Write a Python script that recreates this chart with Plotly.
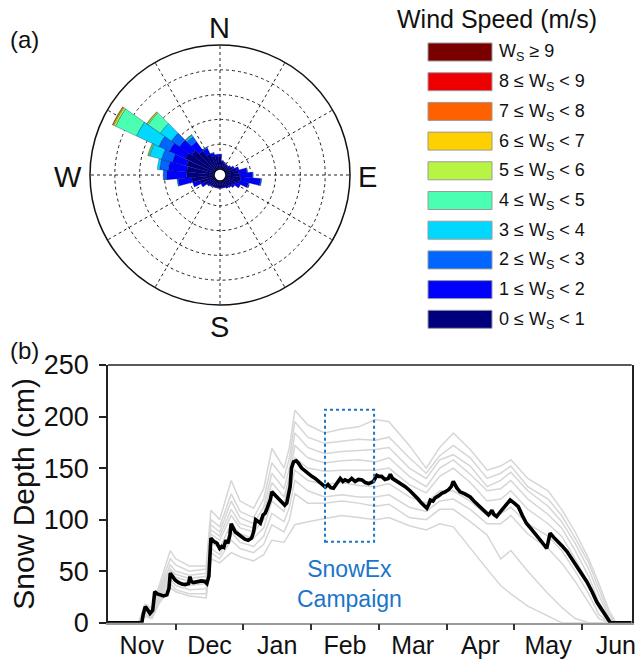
import plotly.graph_objects as go

W, H = 643, 664
FONT = "Liberation Sans, Arial, sans-serif"

# ---------------- Wind rose data ----------------
directions = [0, 10, 20, 30, 40, 50, 60, 70, 80, 90, 100, 110, 120, 130, 140, 150, 160, 170,
              180, 190, 200, 210, 220, 230, 240, 250, 260, 270, 280, 290, 300, 310, 320, 330, 340, 350]
speed_labels = ["0 ≤ W<sub>S</sub> &lt; 1", "1 ≤ W<sub>S</sub> &lt; 2", "2 ≤ W<sub>S</sub> &lt; 3",
                "3 ≤ W<sub>S</sub> &lt; 4", "4 ≤ W<sub>S</sub> &lt; 5", "5 ≤ W<sub>S</sub> &lt; 6",
                "6 ≤ W<sub>S</sub> &lt; 7", "7 ≤ W<sub>S</sub> &lt; 8", "8 ≤ W<sub>S</sub> &lt; 9",
                "W<sub>S</sub> ≥ 9"]
speed_colors = ["#00007f", "#0000ff", "#0066ff", "#00d8ff", "#4affb2",
                "#b8f542", "#ffd000", "#ff6000", "#ee0000", "#7a0000"]

ws_0_1 = [0.5, 0.3, 0.25, 0.22, 0.22, 0.25, 0.32, 0.4, 0.5, 0.55, 0.6, 0.55, 0.45, 0.38, 0.32, 0.3, 0.27, 0.27,
          0.27, 0.27, 0.27, 0.27, 0.3, 0.33, 0.45, 0.6, 0.9, 1.1, 1.1, 1.15, 1.3, 1.15, 0.95, 0.7, 0.55, 0.5]
ws_1_2 = [0.1, 0.05, 0.05, 0.03, 0.03, 0.05, 0.08, 0.15, 0.35, 0.5, 0.8, 0.4, 0.22, 0.1, 0.07, 0.05, 0.03, 0.03,
          0.03, 0.03, 0.03, 0.03, 0.05, 0.07, 0.15, 0.3, 0.55, 0.8, 0.75, 0.6, 0.7, 0.6, 0.45, 0.25, 0.13, 0.1]
ws_2_3 = [0, 0, 0, 0, 0, 0, 0, 0, 0.03, 0.05, 0.05, 0.03, 0, 0, 0, 0, 0, 0,
          0, 0, 0, 0, 0, 0, 0, 0, 0.05, 0.15, 0.35, 0.45, 0.48, 0.4, 0.25, 0.05, 0.02, 0]
ws_3_4 = [0, 0, 0, 0, 0, 0, 0, 0, 0, 0, 0, 0, 0, 0, 0, 0, 0, 0,
          0, 0, 0, 0, 0, 0, 0, 0, 0, 0, 0.1, 0.5, 1.0, 0.55, 0.07, 0, 0, 0]
ws_4_5 = [0, 0, 0, 0, 0, 0, 0, 0, 0, 0, 0, 0, 0, 0, 0, 0, 0, 0,
          0, 0, 0, 0, 0, 0, 0, 0, 0, 0, 0, 0.05, 0.93, 0.6, 0.02, 0, 0, 0]
ws_5_6 = [0, 0, 0, 0, 0, 0, 0, 0, 0, 0, 0, 0, 0, 0, 0, 0, 0, 0,
          0, 0, 0, 0, 0, 0, 0, 0, 0, 0, 0, 0.03, 0.08, 0.05, 0.01, 0, 0, 0]
ws_6_7 = [0, 0, 0, 0, 0, 0, 0, 0, 0, 0, 0, 0, 0, 0, 0, 0, 0, 0,
          0, 0, 0, 0, 0, 0, 0, 0, 0, 0, 0, 0, 0.04, 0.02, 0, 0, 0, 0]
ws_7_8 = [0, 0, 0, 0, 0, 0, 0, 0, 0, 0, 0, 0, 0, 0, 0, 0, 0, 0,
          0, 0, 0, 0, 0, 0, 0, 0, 0, 0, 0, 0, 0.02, 0, 0, 0, 0, 0]
ws_8_9 = [0] * 36
ws_9_up = [0] * 36
speed_freqs = [ws_0_1, ws_1_2, ws_2_3, ws_3_4, ws_4_5, ws_5_6, ws_6_7, ws_7_8, ws_8_9, ws_9_up]
compass = ["N", "E", "S", "W"]

# ---------------- Snow depth data (x in months since 1 Nov) ----------------
month_labels = ["Nov", "Dec", "Jan", "Feb", "Mar", "Apr", "May", "Jun"]
month_ticks = [1, 2, 3, 4, 5, 6, 7]
y_ticks = [0, 50, 100, 150, 200, 250]

mean_x = [0, 0.50, 0.52, 0.55, 0.58, 0.62, 0.66, 0.69, 0.73, 0.77, 0.82, 0.87, 0.90, 0.92, 0.96, 0.99,
          1.04, 1.09, 1.14, 1.19, 1.21, 1.23, 1.26, 1.32, 1.38, 1.43, 1.46, 1.49, 1.52, 1.56, 1.61, 1.65,
          1.68, 1.71, 1.74, 1.77, 1.80, 1.82, 1.85, 1.88, 1.92, 1.97, 2.02, 2.07, 2.12, 2.15, 2.18, 2.22,
          2.25, 2.29, 2.32, 2.34, 2.37, 2.40, 2.42, 2.45, 2.49, 2.53, 2.57, 2.61, 2.64, 2.67, 2.69, 2.71,
          2.74, 2.78, 2.81, 2.86, 2.91, 2.96, 3.01, 3.06, 3.11, 3.16, 3.21, 3.25, 3.29, 3.33, 3.38, 3.43,
          3.47, 3.50, 3.55, 3.60, 3.65, 3.70, 3.75, 3.80, 3.85, 3.92, 3.97, 4.00, 4.04, 4.09, 4.14, 4.17,
          4.20, 4.24, 4.31, 4.39, 4.46, 4.53, 4.58, 4.63, 4.67, 4.71, 4.74, 4.76, 4.80, 4.83, 4.88, 4.93,
          4.98, 5.03, 5.07, 5.10, 5.15, 5.20, 5.27, 5.35, 5.42, 5.49, 5.55, 5.62, 5.65, 5.67, 5.70, 5.74,
          5.80, 5.86, 5.90, 5.94, 6.00, 6.06, 6.12, 6.18, 6.25, 6.33, 6.40, 6.48, 6.50, 6.53, 6.58, 6.63,
          6.70, 6.78, 6.85, 6.93, 7.00, 7.07, 7.15, 7.22, 7.30, 7.39, 7.42, 7.735]
mean_depth = [0, 0, 8, 15.5, 13, 9, 12, 30, 28, 27, 26, 27, 33, 48, 44, 41.5,
              39, 37.5, 37, 38, 44.7, 40, 39, 39.5, 40.5, 40, 38, 45, 82, 79, 77, 72,
              74, 73, 80, 77, 85, 96, 92, 88, 86, 83.5, 81, 80, 82, 88, 100, 98,
              96.5, 104.6, 106, 109, 114, 120, 127, 125, 122, 119, 116, 114, 116, 125, 132, 150,
              156, 157, 155, 150, 147, 144, 142, 140, 137, 134, 131.5, 134, 131, 130.5, 135, 140,
              137, 138.5, 137, 140, 137, 139, 138.5, 136, 135, 137, 143, 142, 142, 139, 140, 144,
              140, 138.5, 135, 132, 128, 124, 120, 116, 113, 111, 115, 119, 118, 121, 123, 125.6,
              127, 129, 132, 137, 131, 127, 125, 122, 117, 112.6, 109, 104.6, 107, 109, 105, 103,
              108, 112.6, 116, 119, 116, 112.6, 104, 96.5, 91, 85, 79, 72, 80, 87, 83, 80,
              75, 69, 62, 54, 47, 40, 30, 20, 12, 2.6, 0, 0]

site_x = [0, 0.45, 0.55, 0.65, 0.75, 0.92, 1.0, 1.2, 1.45, 1.52, 1.65, 1.82, 1.95, 2.15, 2.3,
          2.42, 2.6, 2.68, 2.76, 2.95, 3.2, 3.45, 3.7, 3.95, 4.15, 4.45, 4.7, 4.9, 5.1, 5.35,
          5.6, 5.8, 5.95, 6.2, 6.5, 6.7, 6.9, 7.1, 7.25, 7.4, 7.5, 7.735]
site_1 = [0, 0, 18, 14, 35, 70, 62, 55, 55, 109, 100, 138, 118, 111, 130, 169, 150, 170, 206, 192,
          184, 188, 190, 197, 195, 172, 150, 170, 184, 168, 148, 152, 158, 140, 128, 110, 88, 62, 38, 12, 0, 0]
site_2 = [0, 0, 16, 12, 32, 62, 56, 50, 52, 100, 93, 125, 108, 102, 120, 155, 140, 160, 195, 180,
          174, 176, 178, 177, 180, 160, 145, 162, 172, 160, 140, 145, 152, 132, 120, 104, 82, 58, 32, 8, 0, 0]
site_3 = [0, 0, 15, 11, 30, 56, 50, 46, 48, 95, 88, 118, 102, 96, 112, 145, 130, 150, 184, 170,
          164, 166, 167, 168, 170, 150, 140, 158, 163, 152, 132, 138, 146, 128, 113, 98, 77, 52, 27, 5, 0, 0]
site_4 = [0, 0, 14, 10, 28, 52, 47, 43, 45, 90, 84, 110, 96, 92, 106, 136, 122, 142, 172, 160,
          155, 157, 158, 156, 160, 142, 132, 150, 158, 144, 128, 130, 138, 120, 105, 92, 70, 45, 20, 2, 0, 0]
site_5 = [0, 0, 13, 9, 26, 50, 44, 40, 42, 86, 80, 104, 92, 88, 100, 128, 116, 136, 160, 150,
          147, 148, 148, 148, 150, 134, 126, 142, 150, 136, 118, 120, 128, 110, 96, 84, 62, 38, 14, 0, 0, 0]
site_6 = [0, 0, 12, 8, 24, 46, 40, 36, 38, 78, 72, 96, 86, 82, 92, 118, 108, 125, 148, 138,
          134, 136, 133, 132, 135, 122, 116, 128, 128, 118, 104, 106, 112, 96, 84, 70, 50, 28, 8, 0, 0, 0]
site_7 = [0, 0, 10, 6, 22, 42, 36, 32, 33, 72, 66, 88, 78, 74, 84, 106, 98, 112, 138, 128,
          122, 124, 122, 122, 124, 112, 108, 118, 120, 110, 96, 96, 104, 86, 72, 58, 40, 20, 4, 0, 0, 0]
site_8 = [0, 0, 8, 5, 20, 38, 32, 28, 28, 68, 62, 80, 72, 68, 76, 95, 88, 100, 125, 116,
          116, 118, 116, 113, 115, 102, 100, 110, 110, 98, 85, 62, 70, 50, 28, 15, 4, 0, 0, 0, 0, 0]
site_9 = [0, 0, 6, 4, 18, 34, 30, 26, 24, 62, 58, 68, 64, 60, 66, 80, 78, 86, 95, 98,
          101, 104, 102, 100, 102, 94, 90, 96, 93, 72, 52, 36, 28, 16, 6, 0, 0, 0, 0, 0, 0, 0]
sites = [site_1, site_2, site_3, site_4, site_5, site_6, site_7, site_8, site_9]

campaign_x = [3.205, 3.93]
campaign_y = [78.6, 206.5]

# ---------------- Figure ----------------
def px(x):
    return x / W

def py(y):
    return 1 - y / H

fig = go.Figure()

for lab, col, vals in zip(speed_labels, speed_colors, speed_freqs):
    fig.add_trace(go.Barpolar(
        r=vals, theta=directions, width=[10] * len(directions), name=lab,
        marker=dict(color=col, line=dict(color="rgba(0,0,40,0.45)", width=0.6)),
        showlegend=False, hoverinfo="skip"))

for s in sites:
    fig.add_trace(go.Scatter(x=site_x, y=s, mode="lines", xaxis="x", yaxis="y",
                             line=dict(color="#d6d6d6", width=1.5), showlegend=False))
fig.add_trace(go.Scatter(x=mean_x, y=mean_depth, mode="lines", xaxis="x", yaxis="y",
                         line=dict(color="black", width=3.6), showlegend=False))

cx, cy, R = 220, 175, 130
fig.update_layout(
    width=W, height=H, margin=dict(l=0, r=0, t=0, b=0, autoexpand=False),
    paper_bgcolor="white", plot_bgcolor="white",
    font=dict(family=FONT, color="#111"),
    polar=dict(
        domain=dict(x=[px(cx - R), px(cx + R)], y=[py(cy + R), py(cy - R)]),
        hole=0.046, bgcolor="white", barmode="stack",
        radialaxis=dict(range=[0, 5], dtick=1, showticklabels=False, ticks="", showline=False,
                        gridcolor="#222", griddash="dot", gridwidth=1),
        angularaxis=dict(rotation=90, direction="clockwise", dtick=30, showticklabels=False, ticks="",
                         showline=True, linecolor="#111", linewidth=1.5,
                         gridcolor="#222", griddash="dot", gridwidth=1),
    ),
    xaxis=dict(domain=[px(108), px(631.7)], range=[0, 7.735], showgrid=False, zeroline=False,
               automargin=False,
               tickmode="array", tickvals=[i + 0.5 for i in range(len(month_labels))],
               ticktext=month_labels, ticks="", tickfont=dict(size=25, color="#111"),
               showline=True, linecolor="#9a9a9a", linewidth=1.5,
               minor=dict(tickmode="array", tickvals=month_ticks, ticks="outside", ticklen=6,
                          tickcolor="#333", tickwidth=1.5, showgrid=False)),
    yaxis=dict(domain=[py(622.7), py(365)], range=[0, 250], tickvals=y_ticks, showgrid=False,
               zeroline=False, automargin=False, ticks="outside", ticklen=7, tickcolor="#222", tickwidth=1.5,
               showline=True, linecolor="#222", linewidth=1.5, mirror=True,
               ticklabelstandoff=5,
               tickfont=dict(size=27, color="#111"),
               title=dict(text="Snow Depth (cm)", font=dict(size=30, color="#111"), standoff=0)),
)

# top frame line of panel (b)
fig.add_shape(type="line", xref="x domain", yref="y domain", x0=0, x1=1, y0=1, y1=1,
              line=dict(color="#222", width=1.5))
# SnowEx campaign box
fig.add_shape(type="rect", xref="x", yref="y", x0=campaign_x[0], x1=campaign_x[1],
              y0=campaign_y[0], y1=campaign_y[1], line=dict(color="#1b75c8", width=2, dash="dot"))
fig.add_annotation(x=sum(campaign_x) / 2, y=38, xref="x", yref="y", text="SnowEx<br>Campaign",
                   showarrow=False, xanchor="center", yanchor="middle",
                   font=dict(size=23, color="#1b75c8"))

# compass labels
compass_pos = {"N": (220, 28), "E": (367, 177), "S": (220, 327), "W": (68, 177)}
for lab in compass:
    pos = compass_pos[lab]
    fig.add_annotation(x=px(pos[0]), y=py(pos[1]), xref="paper", yref="paper", text=lab,
                       showarrow=False, xanchor="center", yanchor="middle",
                       font=dict(size=29, color="#111"))

# panel labels
fig.add_annotation(x=px(8), y=py(40), xref="paper", yref="paper", text="(a)", xanchor="left",
                   yanchor="middle", showarrow=False, font=dict(size=24, color="#111"))
fig.add_annotation(x=px(8), y=py(350), xref="paper", yref="paper", text="(b)", xanchor="left",
                   yanchor="middle", showarrow=False, font=dict(size=24, color="#111"))

# legend (manual)
fig.add_annotation(x=px(497), y=py(19), xref="paper", yref="paper", text="Wind Speed (m/s)",
                   showarrow=False, xanchor="center", yanchor="middle", font=dict(size=25, color="#111"))
n = len(speed_labels)
for i in range(n):
    k = n - 1 - i
    top = 43 + 29.7 * i
    fig.add_shape(type="rect", xref="paper", yref="paper", x0=px(428), x1=px(492),
                  y0=py(top + 18), y1=py(top), fillcolor=speed_colors[k],
                  line=dict(color="#9a9a9a", width=1))
    fig.add_annotation(x=px(497), y=py(top + 10), xref="paper", yref="paper", text=speed_labels[k],
                       xanchor="left", yanchor="middle", showarrow=False,
                       font=dict(size=18, color="#111"))

fig.write_html("out.html")
